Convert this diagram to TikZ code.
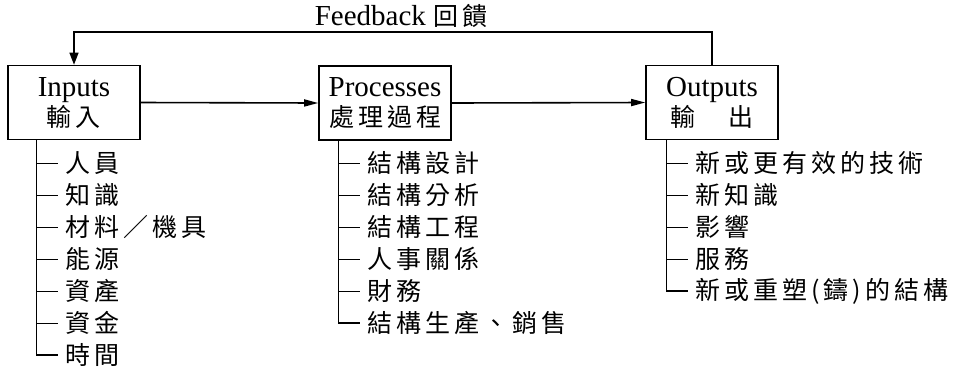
\documentclass[tikz,border=0pt]{standalone}
\usepackage{fontspec}
\setmainfont{Liberation Serif}
\newfontfamily\cjk[LetterSpace=16]{Noto Sans CJK TC}
\usetikzlibrary{arrows.meta}
\begin{document}
\begin{tikzpicture}[x=1pt,y=-1pt,
  box/.style={draw, line width=1.6pt, minimum width=132pt, minimum height=74pt,
    inner sep=0pt, align=center, font=\fontsize{29}{30}\selectfont},
  zh/.style={font=\cjk\fontsize{25}{25}\selectfont},
  item/.style={anchor=west, inner sep=0pt, zh},
  flow/.style={line width=1.6pt, -{Triangle[length=14pt,width=7pt]}},
  fbarrow/.style={line width=1.3pt, -{Triangle[length=12pt,width=9pt]}},
  branch/.style={line width=1.2pt},
  tickline/.style={line width=0.9pt}]
\useasboundingbox (0,0) rectangle (957,368);

% boxes
\node[box] (in)  at (74,102.5)  {Inputs\\{\cjk\fontsize{25}{30}\selectfont 輸入}};
\node[box] (pr)  at (385,103)   {Processes\\{\cjk\fontsize{25}{30}\selectfont 處理過程}};
\node[box] (out) at (712,102.5) {Outputs\\{\cjk\fontsize{25}{30}\selectfont 輸　出}};

% main flow
\draw[flow] (in.east) -- (pr.west);
\draw[flow] (pr.east) -- (out.west);

% feedback
\node[font=\fontsize{29}{30}\selectfont] (fbl) at (401,16) {Feedback {\cjk\fontsize{25}{25}\selectfont 回饋}};
\coordinate (fbline) at (0,32);
\draw[fbarrow] (out.north) -- (out.north |- fbline) -| (in.north);

% input items
\foreach \t [count=\k from 0] in {人員,知識,材料／機具,能源,資產,資金,時間}
  \node[item] (i\k) at (65,163+32*\k) {\t};
\coordinate (ia) at ([xshift=29pt]in.south west);
\draw[branch] (ia) |- ([xshift=-7pt]i6.west);
\foreach \k in {0,...,5} \draw[tickline] (ia |- i\k.west) -- ([xshift=-7pt]i\k.west);

% process items
\foreach \t [count=\k from 0] in {結構設計,結構分析,結構工程,人事關係,財務,結構生產、銷售}
  \node[item] (p\k) at (367,163+32*\k) {\t};
\coordinate (pa) at ([xshift=20pt]pr.south west);
\draw[branch] (pa) |- ([xshift=-7pt]p5.west);
\foreach \k in {0,...,4} \draw[tickline] (pa |- p\k.west) -- ([xshift=-7pt]p\k.west);

% output items
\foreach \t [count=\k from 0] in {新或更有效的技術,新知識,影響,服務,新或重塑(鑄)的結構}
  \node[item] (o\k) at (695,163+32*\k) {\t};
\coordinate (oa) at ([xshift=21pt]out.south west);
\draw[branch] (oa) |- ([xshift=-7pt]o4.west);
\foreach \k in {0,...,3} \draw[tickline] (oa |- o\k.west) -- ([xshift=-7pt]o\k.west);
\end{tikzpicture}
\end{document}
